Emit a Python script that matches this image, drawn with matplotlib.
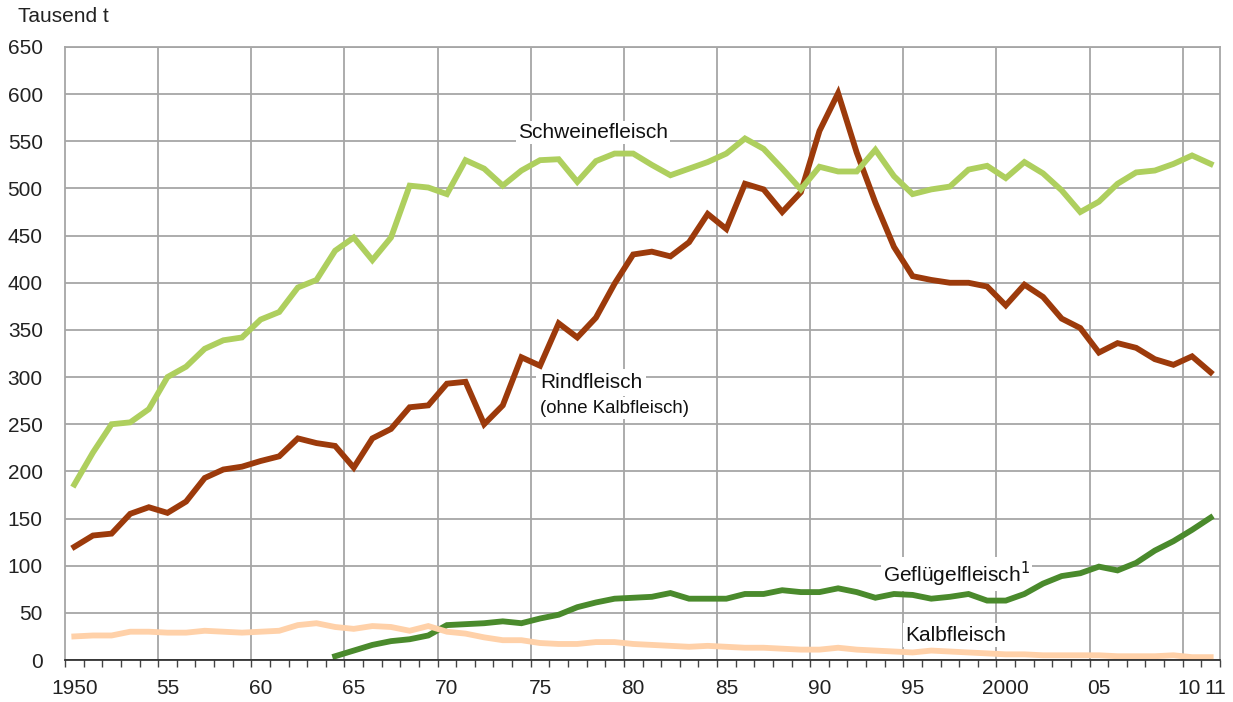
import numpy as np
import matplotlib.pyplot as plt

# Data (thousand tonnes)
years = list(range(1950, 2012))

schwein = [186, 220, 250, 252, 266, 300, 311, 330, 339, 342,
           361, 369, 395, 403, 434, 448, 424, 448, 503, 501,
           494, 530, 521, 503, 519, 530, 531, 507, 529, 537,
           537, 525, 514, 521, 528, 537, 553, 542, 521, 499,
           523, 518, 518, 541, 513, 494, 499, 502, 520, 524,
           511, 528, 516, 498, 475, 486, 505, 517, 519, 526,
           535, 526]

rind = [120, 132, 134, 155, 162, 156, 168, 193, 202, 205,
        211, 216, 235, 230, 227, 204, 235, 245, 268, 270,
        293, 295, 250, 270, 321, 312, 357, 342, 363, 399,
        430, 433, 428, 443, 473, 457, 505, 499, 475, 496,
        561, 601, 538, 485, 438, 407, 403, 400, 400, 396,
        376, 398, 385, 362, 352, 326, 336, 331, 319, 313,
        322, 305]

gefluegel_years = list(range(1964, 2012))
gefluegel = [4, 10, 16, 20, 22, 26,
             37, 38, 39, 41, 39, 44, 48, 56, 61, 65,
             66, 67, 71, 65, 65, 65, 70, 70, 74, 72,
             72, 76, 72, 66, 70, 69, 65, 67, 70, 63,
             63, 70, 81, 89, 92, 99, 95, 103, 116, 126,
             138, 151]

kalb = [25, 26, 26, 30, 30, 29, 29, 31, 30, 29,
        30, 31, 37, 39, 35, 33, 36, 35, 31, 36,
        30, 28, 24, 21, 21, 18, 17, 17, 19, 19,
        17, 16, 15, 14, 15, 14, 13, 13, 12, 11,
        11, 13, 11, 10, 9, 8, 10, 9, 8, 7,
        6, 6, 5, 5, 5, 5, 4, 4, 4, 5,
        3, 3]

xtick_years = [1950, 1955, 1960, 1965, 1970, 1975, 1980, 1985, 1990, 1995,
               2000, 2005, 2010, 2011]
xtick_labels = ['1950', '55', '60', '65', '70', '75', '80', '85', '90', '95',
                '2000', '05', '10', '11']

c_schwein = '#AECF5E'
c_rind = '#9C3A0B'
c_gefl = '#4A8A2C'
c_kalb = '#FFD1A9'
c_grid = '#A6A6A6'

plt.rcParams['font.family'] = ['Liberation Sans', 'DejaVu Sans']

fig = plt.figure(figsize=(12.33, 7.02), dpi=100)
ax = fig.add_axes([65 / 1233, 1 - 660 / 702, (1220 - 65) / 1233, (660 - 47) / 702])

lw = 4.2
ax.plot(years, rind, color=c_rind, lw=lw, solid_joinstyle='miter', zorder=3)
ax.plot(years, schwein, color=c_schwein, lw=lw, solid_joinstyle='miter', zorder=3)
ax.plot(gefluegel_years, gefluegel, color=c_gefl, lw=lw, solid_joinstyle='miter', zorder=3)
ax.plot(years, kalb, color=c_kalb, lw=lw, solid_joinstyle='miter', zorder=3)

ax.set_xlim(1949.5, 2011.5)
ax.set_ylim(0, 650)

# grid
ax.set_yticks(np.arange(0, 651, 50))
ax.yaxis.grid(True, color=c_grid, lw=1.3, zorder=1)
for b in np.arange(1954.5, 2011, 5):
    ax.axvline(b, color=c_grid, lw=1.3, zorder=1)
ax.set_axisbelow(True)

for s in ['left', 'right', 'top']:
    ax.spines[s].set_color(c_grid)
    ax.spines[s].set_linewidth(1.3)
ax.spines['bottom'].set_color('#222222')
ax.spines['bottom'].set_linewidth(1.2)
ax.spines['bottom'].set_zorder(4)

# last two labels sit close together, nudge them apart a little
pos = [float(y) for y in xtick_years]
pos[-2] -= 0.18
pos[-1] += 0.22
ax.set_xticks(pos)
ax.set_xticklabels(xtick_labels)
ax.set_xticks(np.arange(1949.5, 2012, 1), minor=True)
ax.tick_params(axis='x', which='major', length=0, pad=14, labelsize=15, labelcolor='#222222')
ax.tick_params(axis='x', which='minor', length=5, width=1, color='#444444', direction='out')
ax.tick_params(axis='y', length=0, pad=16, labelsize=15, labelcolor='#222222')

ax.text(-47 / 1155, 1.049, 'Tausend t', transform=ax.transAxes, fontsize=15,
        color='#222222', ha='left', va='center')

box = dict(facecolor='white', edgecolor='none', pad=1.5)
ax.text(1973.8, 559, 'Schweinefleisch', fontsize=15, ha='left', va='center',
        color='#111111', bbox=box, zorder=2)
ax.text(1975.0, 294, 'Rindfleisch', fontsize=15, ha='left', va='center',
        color='#111111', zorder=2, bbox=dict(facecolor='white', edgecolor='none', pad=3))
ax.text(1975.0, 267, '(ohne Kalbfleisch)', fontsize=13.4, ha='left', va='center',
        color='#111111', zorder=2, bbox=dict(facecolor='white', edgecolor='none', pad=2))
ax.text(1993.4, 91, 'Geflügelfleisch$^1$', fontsize=15, ha='left', va='center',
        color='#111111', bbox=box, zorder=2)
ax.text(1994.6, 26.5, 'Kalbfleisch', fontsize=15, ha='left', va='center',
        color='#111111', bbox=box, zorder=2)

fig.savefig('out.png', dpi=100)
